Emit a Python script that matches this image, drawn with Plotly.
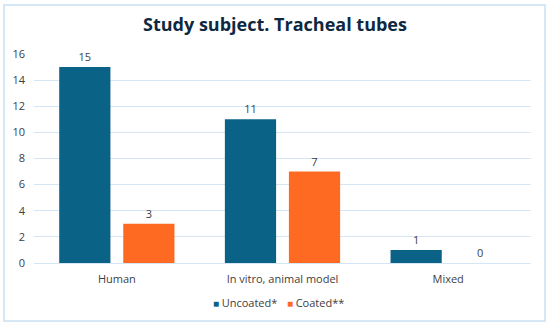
import plotly.graph_objects as go

categories = ["Human", "In vitro, animal model", "Mixed"]
uncoated = [15, 11, 1]
coated = [3, 7, 0]
series_names = ["Uncoated*", "Coated**"]
series_colors = ["#0b6287", "#ff6a22"]
y_ticks = [0, 2, 4, 6, 8, 10, 12, 14, 16]

W, H = 550, 326
L, R, T, B = 34, 19, 54, 63
pw, ph = W - L - R, H - T - B

def px_x(x):
    return (x - L) / pw

def px_y(y):
    return (H - B - y) / ph

fig = go.Figure()
for name, vals, col in zip(series_names, [uncoated, coated], series_colors):
    fig.add_trace(go.Bar(
        x=categories, y=vals, name=name,
        marker=dict(color=col, line=dict(width=0)),
        text=vals, textposition="outside",
        textfont=dict(size=11, color="#404040"), cliponaxis=False,
        showlegend=False,
    ))

# legend drawn as text entries
fig.add_annotation(xref="paper", yref="paper", x=px_x(211), y=px_y(302),
                   xanchor="left", yanchor="middle", showarrow=False,
                   text=f"<span style='color:{series_colors[0]};font-size:10px'>■ </span>{series_names[0]}",
                   font=dict(size=11, color="#404040"))
fig.add_annotation(xref="paper", yref="paper", x=px_x(285), y=px_y(302),
                   xanchor="left", yanchor="middle", showarrow=False,
                   text=f"<span style='color:{series_colors[1]};font-size:10px'>■ </span>{series_names[1]}",
                   font=dict(size=11, color="#404040"))

fig.add_shape(type="rect", xref="paper", yref="paper",
              x0=px_x(4), x1=px_x(545), y0=px_y(321), y1=px_y(5),
              line=dict(color="#c9e0f2", width=1.5), fillcolor="rgba(0,0,0,0)",
              layer="below")

fig.update_layout(
    width=W, height=H,
    margin=dict(l=L, r=R, t=T, b=B),
    paper_bgcolor="white", plot_bgcolor="white",
    font=dict(family="Open Sans", color="#595959", size=11),
    title=dict(text="<b>Study subject. Tracheal tubes</b>", x=0.5, xref="container",
               xanchor="center", y=1 - 25 / H, yanchor="middle", yref="container",
               font=dict(size=18, color="#0e2841", family="Open Sans")),
    barmode="group", bargap=0.227, bargroupgap=0.2,
    xaxis=dict(showgrid=False, showline=True, linecolor="#d4e5f5", linewidth=1,
               tickfont=dict(size=11, color="#404040"), ticks="", ticklabelstandoff=6),
    yaxis=dict(range=[0, 16], tickvals=y_ticks, showgrid=True, gridcolor="#d4e5f5",
               gridwidth=1, zeroline=False, tickfont=dict(size=11, color="#404040"),
               ticks="", ticklabelstandoff=8),
    showlegend=False,
)

fig.write_html("out.html", config={"displayModeBar": False},
               post_script="document.body.style.margin='0';")
